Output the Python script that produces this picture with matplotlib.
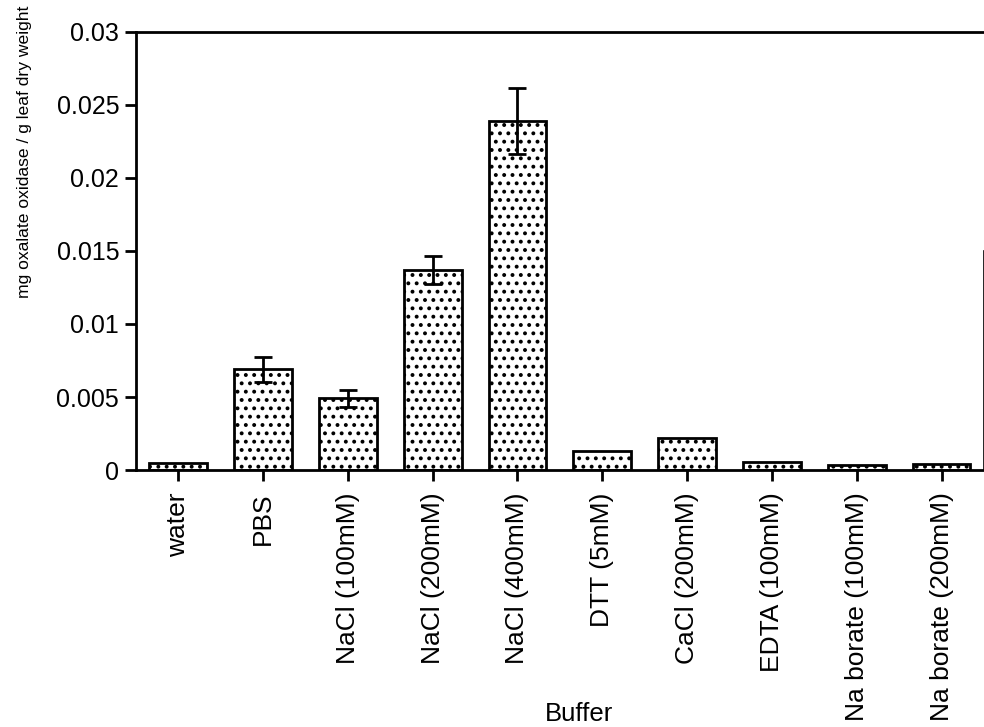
import matplotlib
matplotlib.use("Agg")
import matplotlib.pyplot as plt
import numpy as np

categories = ["water", "PBS", "NaCl (100mM)", "NaCl (200mM)", "NaCl (400mM)",
              "DTT (5mM)", "CaCl (200mM)", "EDTA (100mM)",
              "Na borate (100mM)", "Na borate (200mM)"]
values = [0.00045, 0.0069, 0.0049, 0.0137, 0.0239, 0.0013, 0.0022, 0.00055, 0.00035, 0.0004]
errors = [0, 0.00087, 0.0006, 0.00097, 0.00225, 0, 0, 0, 0, 0]
yticks = [0, 0.005, 0.01, 0.015, 0.02, 0.025, 0.03]
ytick_labels = ["0", "0.005", "0.01", "0.015", "0.02", "0.025", "0.03"]

plt.rcParams['font.family'] = ['Liberation Sans', 'DejaVu Sans']
plt.rcParams['hatch.linewidth'] = 1.6
plt.rcParams['hatch.color'] = 'black'

fig = plt.figure(figsize=(9.84, 7.27), dpi=100)
ax = fig.add_axes([0.138, 0.3535, 0.862, 0.6025])

x = np.arange(len(categories))
ax.bar(x, values, width=0.68, color='white', edgecolor='black', linewidth=2.0,
       hatch='..', zorder=2)
err_x = [xi for xi, e in zip(x, errors) if e > 0]
err_v = [v for v, e in zip(values, errors) if e > 0]
err_e = [e for e in errors if e > 0]
ax.errorbar(err_x, err_v, yerr=err_e, fmt='none', ecolor='black', elinewidth=2.0,
            capsize=6.5, capthick=2.0, zorder=3)

ax.set_xlim(-0.5, 9.5)
ax.set_ylim(0, 0.03)
ax.set_yticks(yticks)
ax.set_yticklabels(ytick_labels, fontsize=18)
ax.set_xticks(x)
ax.set_xticklabels(categories, rotation=90, va='top', ha='center', fontsize=19)

for s in ['left', 'bottom', 'top']:
    ax.spines[s].set_linewidth(2.0)
ax.spines['right'].set_linewidth(1.2)
ax.spines['right'].set_bounds(0, 0.015)

ax.tick_params(axis='both', direction='out', length=8, width=2.0, colors='black')
ax.tick_params(axis='x', pad=8)
ax.tick_params(axis='y', pad=4)

ax.set_ylabel("mg oxalate oxidase / g leaf dry weight", fontsize=12.6)
ax.yaxis.set_label_coords(-0.122, 0.727)
ax.set_xlabel("Buffer", fontsize=18.5)
ax.xaxis.set_label_coords(0.523, -0.53)

fig.savefig("out.png", dpi=100)
